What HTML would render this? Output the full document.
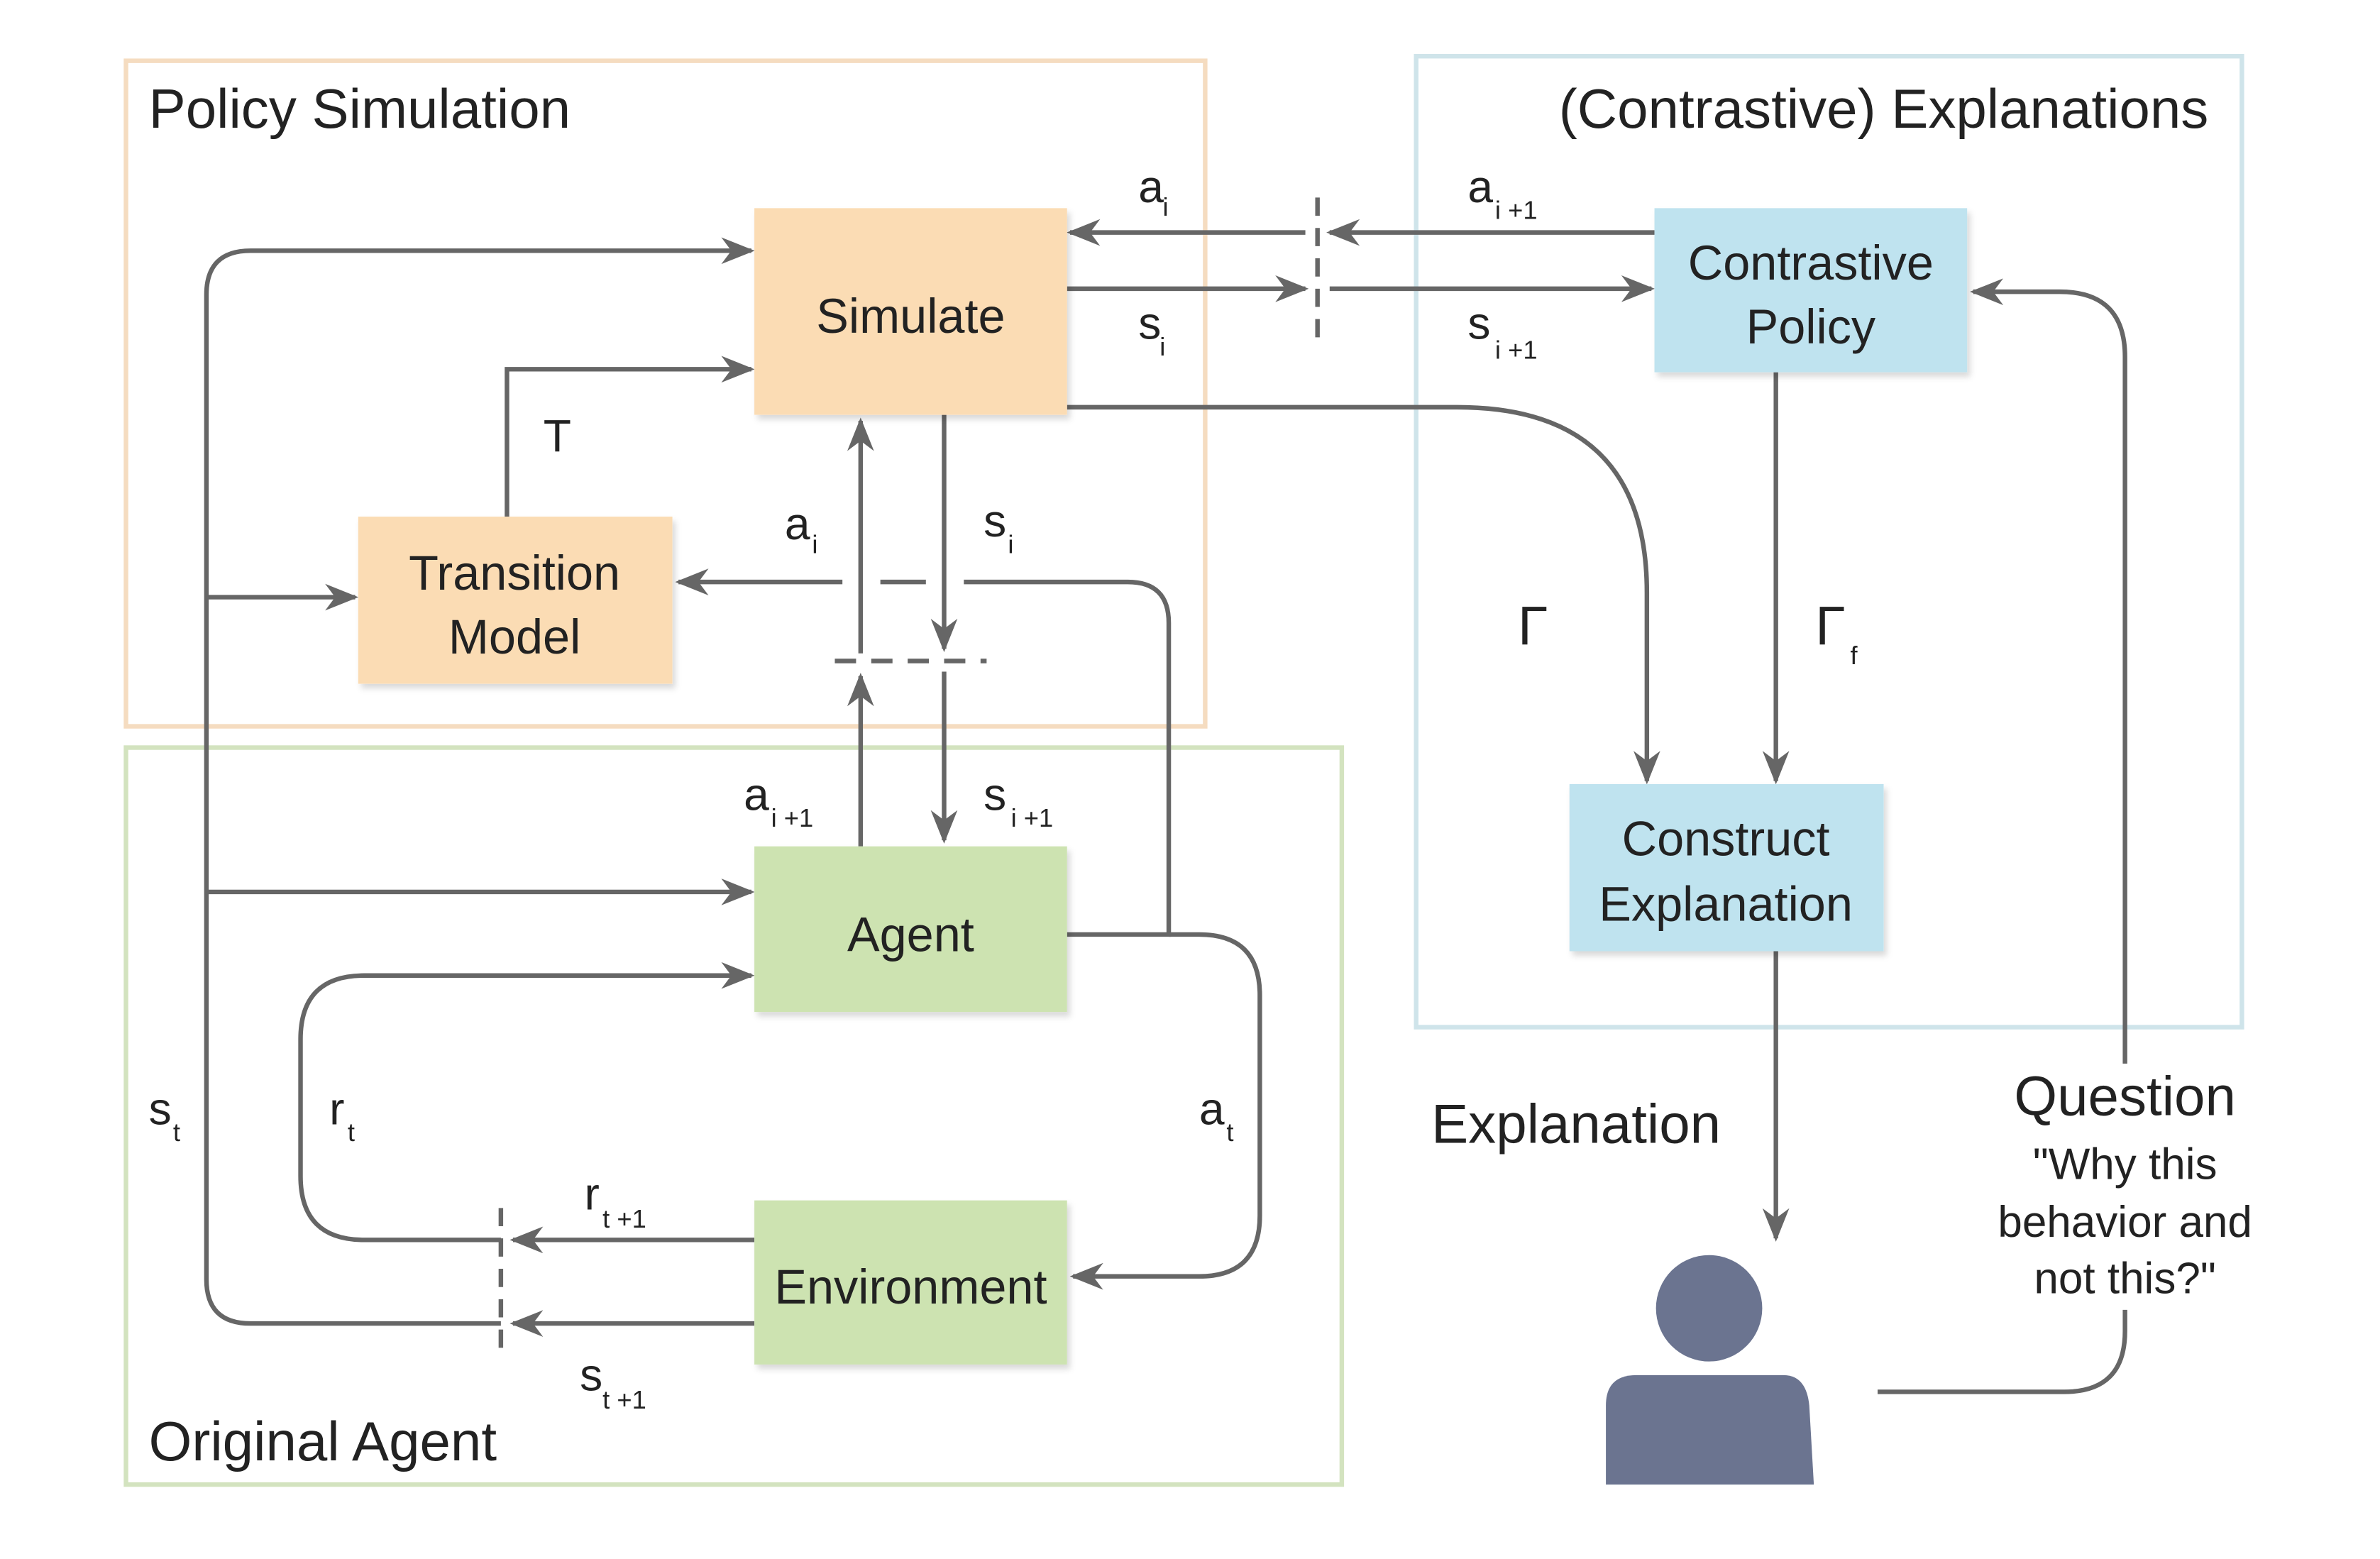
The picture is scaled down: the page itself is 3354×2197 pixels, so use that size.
<!DOCTYPE html>
<html><head><meta charset="utf-8"><style>
html,body{margin:0;padding:0;background:#fff;}
svg{display:block;}
text{font-family:"Liberation Sans","DejaVu Sans",sans-serif;fill:#222;}
</style></head><body>
<svg width="3354" height="2197" viewBox="0 0 1568 1026" preserveAspectRatio="none" xmlns="http://www.w3.org/2000/svg">
<defs>
<marker id="b" viewBox="0 0 10 10" refX="9" refY="5" markerWidth="22" markerHeight="22" markerUnits="userSpaceOnUse" orient="auto"><path d="M0,1 L10,5 L0,9 L3,5 z" fill="#666"/></marker>
<filter id="sh" x="-10%" y="-10%" width="130%" height="130%"><feDropShadow dx="2" dy="3" stdDeviation="2" flood-color="#000" flood-opacity="0.15"/></filter>
</defs>
<rect x="0" y="0" width="1568" height="1026" fill="#fff"/>
<rect x="83" y="40" width="711" height="438" fill="none" stroke="#f5dcc0" stroke-width="3"/>
<rect x="933" y="37" width="544" height="639" fill="none" stroke="#cfe4ea" stroke-width="3"/>
<rect x="83" y="492" width="801" height="485" fill="none" stroke="#d3e3bf" stroke-width="3"/>
<text x="98" y="84" font-size="36.5">Policy Simulation</text>
<text x="1455" y="84" font-size="36.5" text-anchor="end">(Contrastive) Explanations</text>
<text x="98" y="961" font-size="36.5">Original Agent</text>

<g stroke="#666" stroke-width="3" fill="none">
<path d="M330,871 H165 Q136,871 136,842 V194 Q136,165 165,165 H495" marker-end="url(#b)"/>
<path d="M497,871 H338" marker-end="url(#b)"/>
<path d="M136,393 H234" marker-end="url(#b)"/>
<path d="M136,587 H495" marker-end="url(#b)"/>
<path d="M334,340 V243 H495" marker-end="url(#b)"/>
<path d="M860,153 H705" marker-end="url(#b)"/>
<path d="M1090,153 H876" marker-end="url(#b)"/>
<path d="M703,190 H860" marker-end="url(#b)"/>
<path d="M876,190 H1088" marker-end="url(#b)"/>
<path d="M868,130 V226" stroke-dasharray="12,8"/>
<path d="M703,268 H960 Q1085,268 1085,390 V514" marker-end="url(#b)"/>
<path d="M1170,245 V514" marker-end="url(#b)"/>
<path d="M1170,626 V815" marker-end="url(#b)"/>
<path d="M1237,916 H1360 Q1400,916 1400,876 V862"/>
<path d="M1400,700 V235 Q1400,192 1357,192 H1300" marker-end="url(#b)"/>
<path d="M567,557 V445" marker-end="url(#b)"/>
<path d="M567,430 V277" marker-end="url(#b)"/>
<path d="M622,273 V427" marker-end="url(#b)"/>
<path d="M622,442 V553" marker-end="url(#b)"/>
<path d="M550,435 H650" stroke-dasharray="14,10"/>
<path d="M703,615 H770 V410 Q770,383 743,383 H635"/>
<path d="M610,383 H580"/>
<path d="M555,383 H447" marker-end="url(#b)"/>
<path d="M770,615 H790 Q830,615 830,655 V800 Q830,840 790,840 H707" marker-end="url(#b)"/>
<path d="M497,816 H338" marker-end="url(#b)"/>
<path d="M330,816 H240 Q198,816 198,774 V684 Q198,642 240,642 H495" marker-end="url(#b)"/>
<path d="M330,795 V893" stroke-dasharray="12,8"/>
</g>

<g filter="url(#sh)">
<rect x="497" y="137" width="206" height="136" fill="#fbdcb4"/>
<rect x="236" y="340" width="207" height="110" fill="#fbdcb4"/>
<rect x="1090" y="137" width="206" height="108" fill="#bfe3ef"/>
<rect x="1034" y="516" width="207" height="110" fill="#bfe3ef"/>
<rect x="497" y="557" width="206" height="109" fill="#cde3b1"/>
<rect x="497" y="790" width="206" height="108" fill="#cde3b1"/>
</g>
<g font-size="32" text-anchor="middle">
<text x="600" y="219">Simulate</text>
<text x="339" y="388">Transition</text><text x="339" y="430">Model</text>
<text x="1193" y="184">Contrastive</text><text x="1193" y="226">Policy</text>
<text x="1137" y="563">Construct</text><text x="1137" y="606">Explanation</text>
<text x="600" y="626">Agent</text>
<text x="600" y="858">Environment</text>
</g>
<circle cx="1126" cy="861" r="35" fill="#6b7490"/>
<path d="M1058,977 V925 Q1058,905 1078,905 H1175 Q1190,905 1192,925 L1195,977 Z" fill="#6b7490"/>

<g font-size="30">
<text x="750" y="133">a</text><text x="766" y="142" font-size="17">i</text>
<text x="967" y="133">a</text><text x="985" y="144" font-size="17">i +1</text>
<text x="750" y="223">s</text><text x="764" y="234" font-size="17">i</text>
<text x="967" y="223">s</text><text x="985" y="236" font-size="17">i +1</text>
<text x="358" y="297">T</text>
<text x="517" y="355">a</text><text x="535" y="364" font-size="17">i</text>
<text x="648" y="353">s</text><text x="664" y="364" font-size="17">i</text>
<text x="490" y="533">a</text><text x="508" y="544" font-size="17">i +1</text>
<text x="648" y="533">s</text><text x="666" y="544" font-size="17">i +1</text>
<text x="1000" y="424" font-family="Liberation Serif,serif" font-size="36">Γ</text>
<text x="1196" y="424" font-family="Liberation Serif,serif" font-size="36">Γ</text><text x="1219" y="437" font-size="17">f</text>
<text x="98" y="740">s</text><text x="114" y="751" font-size="17">t</text>
<text x="217" y="740">r</text><text x="229" y="751" font-size="17">t</text>
<text x="790" y="740">a</text><text x="808" y="751" font-size="17">t</text>
<text x="385" y="796">r</text><text x="397" y="808" font-size="17">t +1</text>
<text x="382" y="915">s</text><text x="397" y="927" font-size="17">t +1</text>
</g>
<text x="943" y="752" font-size="36.5">Explanation</text>
<text x="1400" y="734" font-size="36.5" text-anchor="middle">Question</text>
<g font-size="29" text-anchor="middle">
<text x="1400" y="776">"Why this</text>
<text x="1400" y="814">behavior and</text>
<text x="1400" y="851">not this?"</text>
</g>
</svg>
</body></html>
